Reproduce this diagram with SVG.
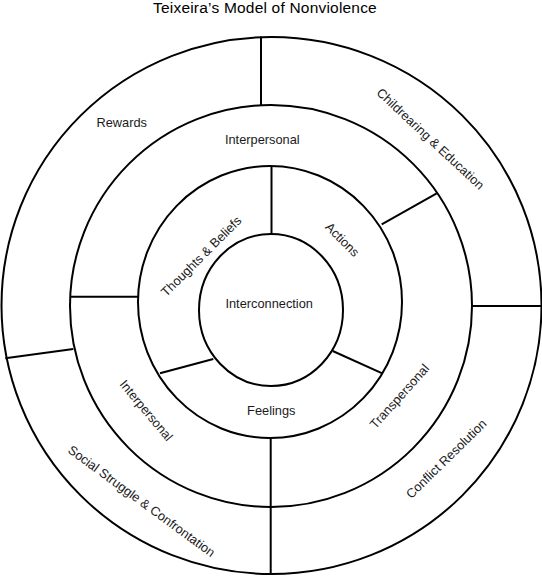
<svg xmlns="http://www.w3.org/2000/svg" width="542" height="585" viewBox="0 0 542 585">
<style>
.ring{fill:none;stroke:#000;stroke-width:2}
.sep{stroke:#000;stroke-width:2;fill:none}
.lbl{font-family:"Liberation Sans",Arial,sans-serif;font-size:12.8px;fill:#1a1a1a;text-anchor:middle}
.title{font-family:"Liberation Sans",Arial,sans-serif;font-size:15.5px;letter-spacing:0.2px;fill:#000;text-anchor:middle}
</style>
<rect width="542" height="585" fill="#fff"/>
<g id="title"><text class="title" x="265" y="13">Teixeira’s Model of Nonviolence</text></g>
<g id="outer-ring">
<ellipse class="ring" cx="271.5" cy="305.5" rx="270" ry="268.5"/>
<text class="lbl" x="121.7" y="127.3">Rewards</text>
<text class="lbl" transform="translate(427.4,142) rotate(43)">Childrearing &amp; Education</text>
<text class="lbl" transform="translate(449.3,461.9) rotate(-44.4)">Conflict Resolution</text>
<text class="lbl" transform="translate(139,504.7) rotate(36.3)">Social Struggle &amp; Confrontation</text>
</g>
<g id="middle-ring">
<circle class="ring" cx="271" cy="306" r="201"/>
<text class="lbl" x="262.3" y="144">Interpersonal</text>
<text class="lbl" transform="translate(402.8,399.2) rotate(-48)">Transpersonal</text>
<text class="lbl" transform="translate(142.9,413.2) rotate(50)">Interpersonal</text>
</g>
<g id="inner-ring">
<ellipse class="ring" cx="270" cy="302" rx="132" ry="136"/>
<text class="lbl" transform="translate(204.3,259.4) rotate(-45)">Thoughts &amp; Beliefs</text>
<text class="lbl" transform="translate(339.3,242.7) rotate(45)">Actions</text>
<text class="lbl" x="271.3" y="415">Feelings</text>
</g>
<g id="center">
<ellipse class="ring" cx="271" cy="310" rx="72" ry="76"/>
<text class="lbl" x="269.2" y="308.3">Interconnection</text>
</g>
<g id="connectors">
<line class="sep" x1="261" y1="36.5" x2="261" y2="105.5"/>
<line class="sep" x1="271.5" y1="166" x2="271.5" y2="234.5"/>
<line class="sep" x1="70" y1="296.7" x2="138.5" y2="296.7"/>
<line class="sep" x1="5.3" y1="358.3" x2="73.3" y2="349"/>
<line class="sep" x1="381.7" y1="224.3" x2="436.7" y2="193.3"/>
<line class="sep" x1="472" y1="306" x2="541.5" y2="306"/>
<line class="sep" x1="332.7" y1="351" x2="382.3" y2="373.3"/>
<line class="sep" x1="213.3" y1="359" x2="160" y2="373.3"/>
<line class="sep" x1="270.7" y1="437.5" x2="270.7" y2="574"/>
</g>
</svg>
